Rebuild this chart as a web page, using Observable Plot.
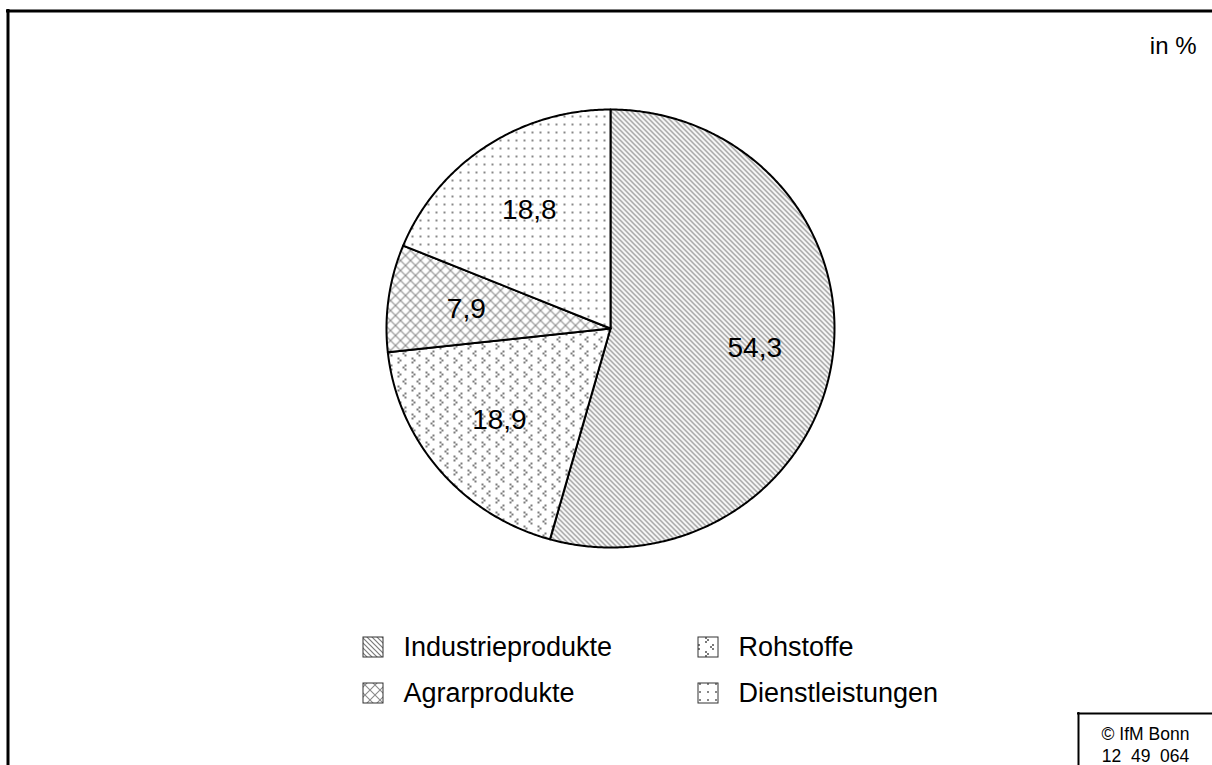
<!DOCTYPE html>
<html>
<head>
<meta charset="utf-8">
<script src="https://cdn.jsdelivr.net/npm/d3@7"></script>
<script src="https://cdn.jsdelivr.net/npm/@observablehq/plot@0.6"></script>
<style>
  html, body { margin: 0; padding: 0; background: #fff; }
  #chart svg { display: block; }
</style>
</head>
<body>
<div id="chart"></div>
<script>
// ---- data ----
const categories = ["Industrieprodukte", "Rohstoffe", "Agrarprodukte", "Dienstleistungen"];
const values = [54.3, 18.9, 7.9, 18.8];
const valueLabels = ["54,3", "18,9", "7,9", "18,8"];
const unitLabel = "in %";
const sourceLines = ["© IfM Bonn", "12  49  064"];
const patternIds = ["pInd", "pRoh", "pAgr", "pDie"];

// ---- layout ----
const W = 1212, H = 765;
const cx = 610, cy = 328, rx = 224, ry = 219;
const font = "Liberation Sans, Arial, Helvetica, sans-serif";

// build slice polygons from the values
const total = d3.sum(values);
const slices = [];
const labelRows = [];
let acc = 0;
categories.forEach((c, i) => {
  const a0 = acc / total * 2 * Math.PI;
  acc += values[i];
  const a1 = acc / total * 2 * Math.PI;
  slices.push({category: c, x: cx, y: cy});
  const n = Math.max(2, Math.ceil((a1 - a0) / (Math.PI / 360)));
  for (let k = 0; k <= n; k++) {
    const a = a0 + (a1 - a0) * k / n;
    slices.push({category: c, x: cx + rx * Math.sin(a), y: cy - ry * Math.cos(a)});
  }
  slices.push({category: c, x: cx, y: cy});
  const am = (a0 + a1) / 2;
  labelRows.push({label: valueLabels[i], x: cx + 0.65 * rx * Math.sin(am), y: cy - 0.65 * ry * Math.cos(am)});
});

// legend (2 x 2)
const legendCols = [363, 698], legendRows = [647, 693];
const legendOrder = [0, 1, 2, 3];
const legend = legendOrder.map((ci, j) => ({
  category: categories[ci],
  x: legendCols[j % 2],
  y: legendRows[Math.floor(j / 2)]
}));

const plot = Plot.plot({
  width: W, height: H,
  margin: 0,
  x: {domain: [0, W], range: [0, W], axis: null},
  y: {domain: [0, H], range: [0, H], axis: null},
  color: {type: "ordinal", domain: categories, range: patternIds.map(id => `url(#${id})`)},
  style: {fontFamily: font, background: "#fff", color: "#000"},
  marks: [
    // frame
    Plot.ruleX([7.5], {y1: 9, y2: H, stroke: "black", strokeWidth: 3}),
    Plot.ruleY([10.5], {x1: 6, x2: W, stroke: "black", strokeWidth: 3}),
    // pie slices
    Plot.line(slices, {x: "x", y: "y", z: "category", fill: "category", stroke: "black", strokeWidth: 2, strokeLinejoin: "round"}),
    // value labels
    Plot.text(labelRows, {x: "x", y: "y", text: "label", fontSize: 28, fill: "black"}),
    // unit
    Plot.text([unitLabel], {x: W - 16, y: 46, text: d => d, textAnchor: "end", fontSize: 24, fill: "black"}),
    // legend swatches
    Plot.rect(legend, {x1: d => d.x, x2: d => d.x + 20, y1: d => d.y - 10, y2: d => d.y + 10, fill: "category", stroke: "#333", strokeWidth: 1}),
    Plot.text(legend, {x: d => d.x + 40, y: d => d.y, text: "category", textAnchor: "start", fontSize: 27, fill: "black"}),
    // source box
    Plot.ruleX([1078], {y1: 712, y2: H, stroke: "black", strokeWidth: 2}),
    Plot.ruleY([713], {x1: 1077, x2: W, stroke: "black", strokeWidth: 2}),
    Plot.text(sourceLines, {x: 1145, y: (d, i) => 734 + i * 22, text: d => d, fontSize: 17.5, fill: "black"})
  ]
});

// patterns
const svg = d3.select(plot);
const defs = svg.insert("defs", ":first-child");
function pat(id, w, h) {
  const p = defs.append("pattern").attr("id", id).attr("patternUnits", "userSpaceOnUse")
    .attr("width", w).attr("height", h);
  p.append("rect").attr("width", w).attr("height", h).attr("fill", "#fff");
  return p;
}
// Industrieprodukte: fine diagonal hatch
pat("pInd", 5, 5).append("path")
  .attr("d", "M-1,-1L6,6M-1,4L1,6M4,-1L6,1")
  .attr("stroke", "#7a7a7a").attr("stroke-width", 1.2).attr("fill", "none");
// Rohstoffe: chevrons
{
  const p = pat("pRoh", 14, 14);
  [[12,0],[10,2],[12,4],[5,7],[7,9],[5,11]].forEach(([x, y]) =>
    p.append("rect").attr("x", x).attr("y", y).attr("width", 2).attr("height", 2).attr("fill", "#7a7a7a"));
}
// Agrarprodukte: diagonal cross hatch
pat("pAgr", 10, 10).append("path")
  .attr("d", "M0,0L10,10M0,10L10,0")
  .attr("stroke", "#8a8a8a").attr("stroke-width", 1.1).attr("fill", "none");
// Dienstleistungen: dot grid
pat("pDie", 8, 8).append("rect")
  .attr("x", 3).attr("y", 3).attr("width", 2).attr("height", 2).attr("fill", "#888");

document.getElementById("chart").appendChild(plot);
</script>
</body>
</html>
